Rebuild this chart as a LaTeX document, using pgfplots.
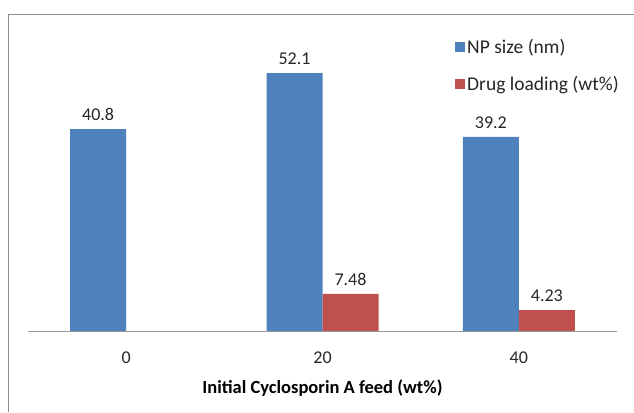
\documentclass[border=0pt]{standalone}
\usepackage{pgfplots}
\pgfplotsset{compat=1.18}
\usepackage{fontspec}
\setmainfont{Carlito}
\definecolor{cblue}{HTML}{4F81BD}
\definecolor{cred}{HTML}{C0504D}
\definecolor{txt}{HTML}{262626}
\begin{document}
\begin{tikzpicture}[x=1pt,y=1pt]
\useasboundingbox (0,0) rectangle (634,412);
\draw[gray!90, line width=1.2pt] (8.5,0) -- (8.5,397.5) -- (634,397.5);
\begin{axis}[
  at={(28pt,81pt)}, anchor=south west,
  scale only axis, width=589pt, height=297pt,
  xmin=-0.5, xmax=2.5, ymin=0, ymax=60,
  axis x line*=bottom, axis y line=none,
  x axis line style={gray!80, line width=0.8pt, -},
  xtick={0,1,2}, xticklabels={0,20,40},
  major x tick style={draw=none},
  extra x ticks={-0.5,0.5,1.5,2.5}, extra x tick labels={},
  extra x tick style={tick style={gray!80, line width=0.8pt}, major tick length=5pt, tick align=outside, xticklabel style={draw=none}},
  xticklabel style={font=\fontsize{18}{20}\selectfont, text=txt, yshift=-13pt},
  xlabel={\textbf{Initial Cyclosporin A feed (wt\%)}},
  xlabel style={font=\fontsize{18.5}{20}\selectfont, text=black, yshift=0pt},
  ybar, bar width=56pt,
  nodes near coords,
  nodes near coords style={font=\fontsize{18}{20}\selectfont, text=txt, yshift=5pt},
  point meta=explicit symbolic,
  legend style={at={(0.725,0.99)}, anchor=north west, draw=none, fill=none,
    font=\fontsize{19.5}{22}\selectfont, text=txt,
    /tikz/row sep=17pt, inner sep=0pt, legend cell align=left},
  legend image code/.code={\fill[#1] (0pt,-5pt) rectangle (10pt,5pt);},
]
\addplot[fill=cblue, draw=none, bar shift=-28pt] coordinates {(0,40.8) [40.8] (1,52.1) [52.1] (2,39.2) [39.2]};
\addlegendentry{NP size (nm)}
\addplot[fill=cred, draw=none, bar shift=28pt] coordinates {(1,7.48) [7.48] (2,4.23) [4.23]};
\addlegendentry{Drug loading (wt\%)}
\end{axis}
\end{tikzpicture}
\end{document}
